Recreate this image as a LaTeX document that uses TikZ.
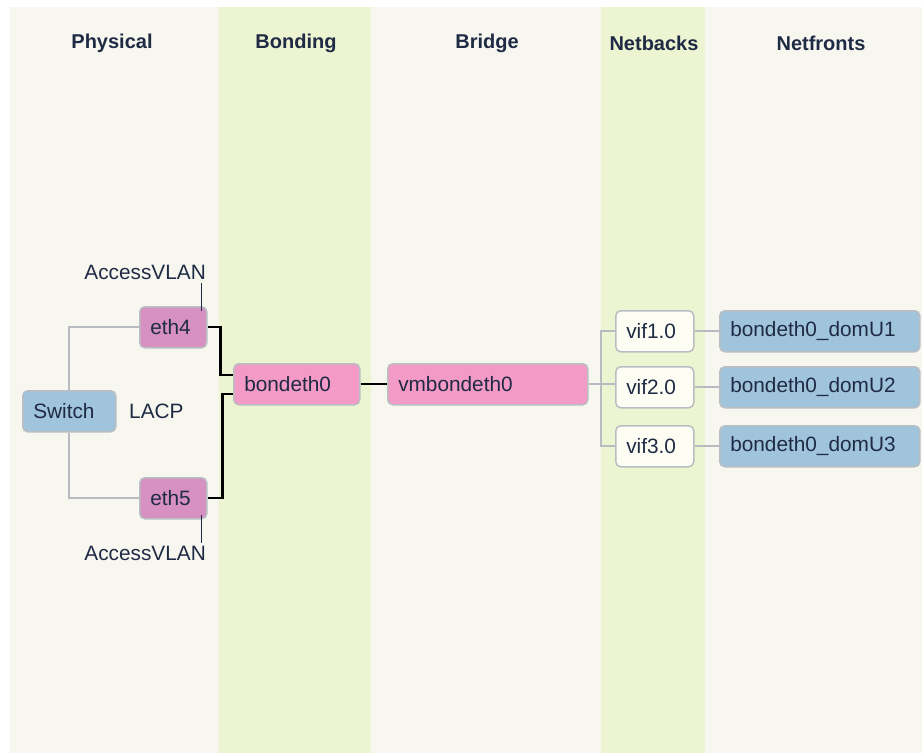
\documentclass[tikz,border=0pt]{standalone}
\usepackage{fontspec}
\setmainfont{Liberation Sans}
\definecolor{lanebg}{HTML}{F7F7F0}
\definecolor{lanegreen}{HTML}{ECF4D1}
\definecolor{txt}{HTML}{1F2A44}
\definecolor{boxline}{HTML}{B8BEC2}
\definecolor{blue}{HTML}{A0C4DC}
\definecolor{ethpink}{HTML}{D690C2}
\definecolor{bondpink}{HTML}{F39AC6}
\definecolor{vifwhite}{HTML}{FDFDF3}
\definecolor{grayline}{HTML}{B8BCC0}
\begin{document}
\begin{tikzpicture}[x=1pt,y=-1pt,
  box/.style={draw=boxline, line width=1.5pt, rounded corners=5pt, anchor=north west,
    inner xsep=10.5pt, inner ysep=0pt, align=left, minimum height=41pt,
    font=\fontsize{20.8}{24}\selectfont, text=txt},
  hdr/.style={font=\fontsize{20}{24}\selectfont\bfseries, text=txt},
  lbl/.style={font=\fontsize{20.8}{24}\selectfont, text=txt, inner sep=0pt},
  glink/.style={draw=grayline, line width=2pt},
  blink/.style={draw=black, line width=2.2pt},
  tick/.style={draw=txt, line width=1pt}]
\useasboundingbox (0,0) rectangle (922,753);
\fill[white] (0,0) rectangle (922,753);
% lanes
\fill[lanebg] (10,7) rectangle (219,753);
\fill[lanegreen] (219,7) rectangle (371,753);
\fill[lanebg] (371,7) rectangle (601,753);
\fill[lanegreen] (601,7) rectangle (705,753);
\fill[lanebg] (705,7) rectangle (922,753);
% headers
\node[hdr] (h1) at (112,43) {Physical};
\node[hdr] (h2) at (296,43) {Bonding};
\node[hdr] (h3) at (487,43) {Bridge};
\node[hdr] (h4) at (654,43) {Netbacks};
\node[hdr] (h5) at (821,43) {Netfronts};
% nodes
\node[box, fill=blue, text width=72pt] (sw) at (22,390) {Switch};
\node[lbl, anchor=west] (lacp) at (129,411) {LACP};
\node[box, fill=ethpink, text width=46pt] (eth4) at (139,306) {eth4};
\node[box, fill=ethpink, text width=46pt] (eth5) at (139,477) {eth5};
\node[lbl, anchor=east] (av1) at (206,272) {AccessVLAN};
\node[lbl, anchor=east] (av2) at (206,553) {AccessVLAN};
\node[box, fill=bondpink, text width=105pt] (bd) at (233,363) {bondeth0};
\node[box, fill=bondpink, text width=179pt] (vm) at (387,363) {vmbondeth0};
\node[box, fill=vifwhite, text width=57pt] (v1) at (615,310) {vif1.0};
\node[box, fill=vifwhite, text width=57pt] (v2) at (615,366) {vif2.0};
\node[box, fill=vifwhite, text width=57pt] (v3) at (615,425) {vif3.0};
\node[box, fill=blue, text width=179pt] (d1) at (719,310) {bondeth0\_domU1};
\node[box, fill=blue, text width=179pt] (d2) at (719,366) {bondeth0\_domU2};
\node[box, fill=blue, text width=179pt] (d3) at (719,425) {bondeth0\_domU3};
% connectors
\draw[glink] (sw.north) |- (eth4.west);
\draw[glink] (sw.south) |- (eth5.west);
\draw[blink] (eth4.east) -- ++(13,0) |- ([yshift=9.5pt]bd.west);
\draw[blink] (eth5.east) -- ++(15,0) |- ([yshift=-9.5pt]bd.west);
\draw[blink] (bd.east) -- (vm.west);
\draw[glink] (vm.east) -- (vm.east -| v2.west);
\draw[glink] (v1.west) -- ++(-14,0) |- (v3.west);
\draw[glink] (v1.east) -- (d1.west);
\draw[glink] (v2.east) -- (d2.west);
\draw[glink] (v3.east) -- (d3.west);
\draw[tick] ([xshift=-6pt,yshift=-5pt]eth4.north east) -- ++(0,-28);
\draw[tick] ([xshift=-6pt,yshift=5pt]eth5.south east) -- ++(0,28);
\end{tikzpicture}
\end{document}
